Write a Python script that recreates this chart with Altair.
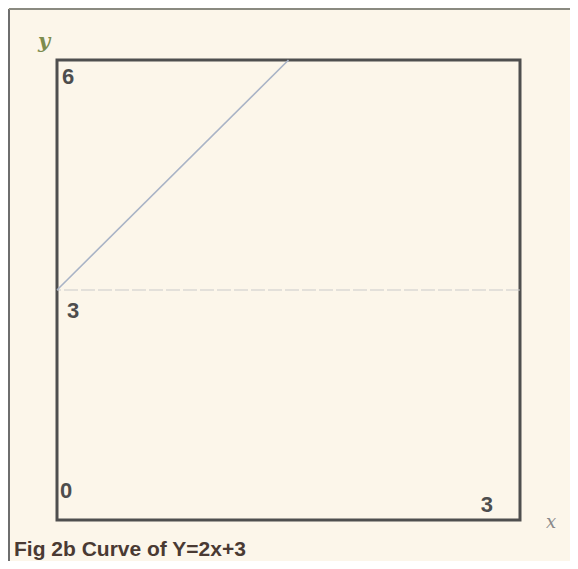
import altair as alt
import pandas as pd

# data
line_x = [0, 1.5]
line_y = [3, 6]
ref_y = [3]
x_domain = [0, 3]
y_domain = [0, 6]
tick_labels = ["6", "3", "0", "3"]
tick_x = [0, 0, 0, 3]
tick_y = [6, 3, 0, 0]
caption = "Fig 2b Curve of Y=2x+3"

W, H = 463, 460
PL, PT = 49, 52
TOTW, TOTH = 562, 553

xs = alt.Scale(domain=x_domain, nice=False, zero=False)
ys = alt.Scale(domain=y_domain, nice=False, zero=False)

line_df = pd.DataFrame({"x": line_x, "y": line_y})
line = alt.Chart(line_df).mark_line(color="#a9b3c6", strokeWidth=1.6).encode(
    x=alt.X("x:Q", scale=xs, axis=None), y=alt.Y("y:Q", scale=ys, axis=None)
)

ref = alt.Chart(pd.DataFrame({"y": ref_y})).mark_rule(
    color="#c9c9c9", strokeWidth=1.2, strokeDash=[14, 3]
).encode(y=alt.Y("y:Q", scale=ys, axis=None))

lab_df = pd.DataFrame({"t": tick_labels, "x": tick_x, "y": tick_y})
offsets = [(5, 7, "left", "top"), (10, 11, "left", "top"), (3, -17, "left", "bottom"), (-27, -3, "right", "bottom")]
labs = []
for i, (dx, dy, al, bl) in enumerate(offsets):
    labs.append(
        alt.Chart(lab_df.iloc[[i]]).mark_text(
            dx=dx, dy=dy, align=al, baseline=bl, fontSize=22, fontWeight="bold",
            font="Liberation Sans", color="#4d4d4d"
        ).encode(x=alt.X("x:Q", scale=xs, axis=None), y=alt.Y("y:Q", scale=ys, axis=None), text="t:N")
    )

ylab = alt.Chart(pd.DataFrame({"t": ["y"], "x": [0], "y": [6]})).mark_text(
    dx=-13, dy=-18, fontSize=21, fontStyle="italic", fontWeight="bold",
    font="DejaVu Serif", color="#7d8c4e"
).encode(x=alt.X("x:Q", scale=xs, axis=None), y=alt.Y("y:Q", scale=ys, axis=None), text="t:N")

xlab = alt.Chart(pd.DataFrame({"t": ["x"], "x": [3], "y": [0]})).mark_text(
    dx=31, dy=3, fontSize=18, fontStyle="italic",
    font="DejaVu Serif", color="#8a8a8a"
).encode(x=alt.X("x:Q", scale=xs, axis=None), y=alt.Y("y:Q", scale=ys, axis=None), text="t:N")

cap = alt.Chart(pd.DataFrame({"t": [caption]})).mark_text(
    align="left", baseline="alphabetic", fontSize=21, fontWeight="bold",
    font="Liberation Sans", color="#4a3a33"
).encode(x=alt.value(-43), y=alt.value(H + 36), text="t:N")

frame_left = alt.Chart(pd.DataFrame({"a": [0]})).mark_rule(color="#6e6e6e", strokeWidth=2).encode(
    x=alt.value(-PL + 1), y=alt.value(-PT + 1), y2=alt.value(TOTH - PT)
)
frame_top = alt.Chart(pd.DataFrame({"a": [0]})).mark_rule(color="#8a8a80", strokeWidth=2).encode(
    x=alt.value(-PL + 1), x2=alt.value(TOTW - PL), y=alt.value(-PT + 1)
)

chart = alt.layer(frame_left, frame_top, ref, line, *labs, ylab, xlab, cap).properties(
    width=W, height=H,
    autosize=alt.AutoSizeParams(type="none"),
    padding={"left": PL, "top": PT, "right": TOTW - PL - W, "bottom": TOTH - PT - H},
    background="#fcf6ea",
).configure_view(stroke="#4f4f4f", strokeWidth=3)

chart.save("out.html", embed_options={"renderer": "svg", "actions": False})
